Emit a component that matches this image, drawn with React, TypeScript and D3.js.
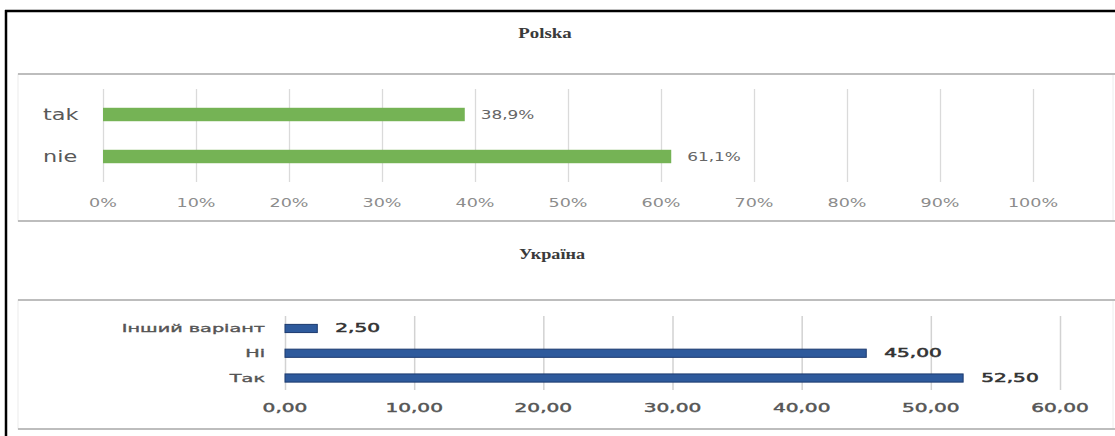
import { useRef, useEffect } from "react";
import { select, scaleLinear, scaleBand, axisBottom } from "d3";

// Polska
const plCategories = ["tak", "nie"];
const plValues = [0.389, 0.611];
const plLabels = ["38,9%", "61,1%"];
const plTicks = [0, 0.1, 0.2, 0.3, 0.4, 0.5, 0.6, 0.7, 0.8, 0.9, 1];

// Україна
const uaCategories = ["Інший варіант", "Ні", "Так"];
const uaValues = [2.5, 45, 52.5];
const uaTicks = [0, 10, 20, 30, 40, 50, 60];

const fmtUa = (v: number) => v.toFixed(2).replace(".", ",");

export default function App() {
  const ref = useRef<SVGSVGElement | null>(null);

  useEffect(() => {
    const svg = select(ref.current!);
    svg.selectAll("*").remove();

    //frame
    svg.append("rect").attr("width", 1115).attr("height", 436).attr("fill", "#fff");
    svg.append("line").attr("x1", 5).attr("x2", 1115).attr("y1", 11).attr("y2", 11)
      .attr("stroke", "#000").attr("stroke-width", 2.5);
    svg.append("line").attr("x1", 6).attr("x2", 6).attr("y1", 10).attr("y2", 436)
      .attr("stroke", "#000").attr("stroke-width", 2.5);

    //panels
    const panels = [
      [74, 221],
      [300, 429],
    ];
    panels.forEach(([t, b]) => {
      svg.append("rect").attr("x", 18).attr("y", t).attr("width", 1095).attr("height", b - t)
        .attr("fill", "#fff").attr("stroke", "#ececec").attr("stroke-width", 1);
      svg.append("line").attr("x1", 18).attr("x2", 1115).attr("y1", t).attr("y2", t)
        .attr("stroke", "#bdbdbd").attr("stroke-width", 2);
      svg.append("line").attr("x1", 18).attr("x2", 1115).attr("y1", b).attr("y2", b)
        .attr("stroke", "#bdbdbd").attr("stroke-width", 2);
    });

    // stretched text helper (source image is widened)
    const txt = (g: any, x: number, y: number, s: string, sx: number, anchor: string) =>
      g.append("text")
        .attr("transform", `translate(${x},${y}) scale(${sx},1)`)
        .attr("text-anchor", anchor)
        .attr("dominant-baseline", "central")
        .text(s);

    //titles
    const titles = svg.append("g").attr("font-family", "Liberation Serif").attr("font-weight", "bold")
      .attr("font-size", 14).attr("fill", "#3a3a3a");
    txt(titles, 545, 33, "Polska", 1.35, "middle");
    txt(titles, 552, 255, "Україна", 1.3, "middle");

    // ---------- Polska ----------
    const xPl = scaleLinear().domain([0, 1]).range([103, 1033]);
    const yPl = scaleBand().domain(plCategories).range([93.5, 177.5]).paddingInner(0.68).paddingOuter(0.34);

    const gPl = svg.append("g");
    const xAxisPl: any = axisBottom(xPl).tickValues(plTicks).tickSize(-(182 - 89)).tickPadding(0);
    gPl.append("g").attr("transform", "translate(0,182)").call(xAxisPl)
      .call((g: any) => g.select(".domain").remove())
      .call((g: any) => g.selectAll(".tick line").attr("stroke", "#dadada").attr("stroke-width", 1.3))
      .call((g: any) => g.selectAll(".tick text").remove());

    const plTickText = gPl.append("g").attr("font-family", "DejaVu Sans").attr("font-size", 13).attr("fill", "#8c8c8c");
    plTicks.forEach((t) => txt(plTickText, xPl(t), 203, `${Math.round(t * 100)}%`, 1.35, "middle"));

    gPl.selectAll(".bar")
      .data(plValues)
      .join("rect")
      .attr("class", "bar")
      .attr("x", xPl(0))
      .attr("y", (d, i) => yPl(plCategories[i])!)
      .attr("width", (d) => xPl(d) - xPl(0))
      .attr("height", yPl.bandwidth())
      .attr("fill", "#75b355");

    const plCat = gPl.append("g").attr("font-family", "DejaVu Sans").attr("font-size", 16).attr("fill", "#595959");
    plCategories.forEach((c) => txt(plCat, 43, yPl(c)! + yPl.bandwidth() / 2, c, 1.4, "start"));

    const plDl = gPl.append("g").attr("font-family", "DejaVu Sans").attr("font-size", 13).attr("fill", "#666");
    plValues.forEach((v, i) =>
      txt(plDl, xPl(v) + 16, yPl(plCategories[i])! + yPl.bandwidth() / 2, plLabels[i], 1.3, "start"));

    // ---------- Україна ----------
    const xUa = scaleLinear().domain([0, 60]).range([285, 1060]);
    const yUa = scaleBand().domain(uaCategories).range([312, 394.5]).paddingInner(0.67).paddingOuter(0.5);

    const gUa = svg.append("g");
    const xAxisUa: any = axisBottom(xUa).tickValues(uaTicks).tickSize(-(390 - 316)).tickPadding(0);
    gUa.append("g").attr("transform", "translate(0,390)").call(xAxisUa)
      .call((g: any) => g.select(".domain").remove())
      .call((g: any) => g.selectAll(".tick line").attr("stroke", "#d2d2d2").attr("stroke-width", 1.5))
      .call((g: any) => g.selectAll(".tick text").remove());

    const uaTickText = gUa.append("g").attr("font-family", "DejaVu Sans")
      .attr("font-size", 11.5).attr("fill", "#555").attr("stroke", "#555").attr("stroke-width", 0.4);
    uaTicks.forEach((t) => txt(uaTickText, xUa(t), 408, fmtUa(t), 1.75, "middle"));

    gUa.selectAll(".bar")
      .data(uaValues)
      .join("rect")
      .attr("class", "bar")
      .attr("x", xUa(0))
      .attr("y", (d, i) => yUa(uaCategories[i])!)
      .attr("width", (d) => xUa(d) - xUa(0))
      .attr("height", yUa.bandwidth())
      .attr("fill", "#2e5a9c")
      .attr("stroke", "#1c3a6e")
      .attr("stroke-width", 1);

    const uaCat = gUa.append("g").attr("font-family", "DejaVu Sans")
      .attr("font-size", 11).attr("fill", "#555").attr("stroke", "#555").attr("stroke-width", 0.35);
    uaCategories.forEach((c) => txt(uaCat, 265, yUa(c)! + yUa.bandwidth() / 2, c, 1.75, "end"));

    const uaDl = gUa.append("g").attr("font-family", "DejaVu Sans")
      .attr("font-size", 11.5).attr("fill", "#333").attr("stroke", "#333").attr("stroke-width", 0.5);
    uaValues.forEach((v, i) =>
      txt(uaDl, xUa(v) + 18, yUa(uaCategories[i])! + yUa.bandwidth() / 2, fmtUa(v), 1.75, "start"));
  }, []);

  return (
    <svg
      ref={ref}
      width={1115}
      height={436}
      style={{ position: "absolute", left: 0, top: 0, display: "block" }}
    ></svg>
  );
}
